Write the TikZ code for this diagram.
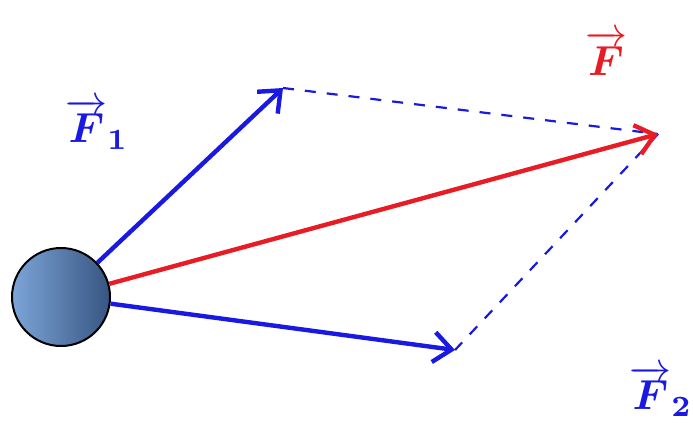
\documentclass[tikz,border=0pt]{standalone}
\usepackage{amsmath,bm,graphicx}
\usepackage{tikz}
\definecolor{vecblue}{RGB}{25,25,225}
\definecolor{vecred}{RGB}{232,28,36}
\definecolor{ballleft}{RGB}{125,165,215}
\definecolor{ballright}{RGB}{55,85,130}
\usetikzlibrary{arrows.meta,positioning,calc}
\newcommand{\biglbl}[1]{\scalebox{4.2}{$#1$}}

\begin{document}
\begin{tikzpicture}[x=1pt,y=-1pt,
        ball/.style={circle, draw=black, line width=2pt, minimum size=98pt,
                     inner sep=0pt, left color=ballleft, right color=ballright},
        force/.style={line width=4.4pt, -{Straight Barb[length=18pt, width=30pt, line width=4.4pt]}},
        comp/.style={line width=2.2pt, vecblue, dash pattern=on 11pt off 11pt},
        veclbl/.style={inner sep=0pt}
      ]
        \useasboundingbox (0,0) rectangle (693,432);
        \node[ball] (ball) at (61,297) {};
        \coordinate (f1) at (283,88);
        \coordinate (f) at (658,134);
        \coordinate (f2) at (455,350);
        % components and resultant
        \draw[comp] (f1) -- (f);
        \draw[comp] (f) -- (f2);
        \draw[force, vecblue] (ball) -- (f1);
        \draw[force, vecblue] (ball) -- (f2);
        \draw[force, vecred] (ball) -- (f);
        \node[veclbl, text=vecblue] (lbl1) at (97,124) {\biglbl{\overrightarrow{\bm{F}}_{\bm{1}}}};
        \node[veclbl, text=vecred] (lbl) at (606,53) {\biglbl{\overrightarrow{\bm{F}}}};
        \node[veclbl, text=vecblue] (lbl2) at (661,391) {\biglbl{\overrightarrow{\bm{F}}_{\bm{2}}}};
      \end{tikzpicture}
\end{document}
